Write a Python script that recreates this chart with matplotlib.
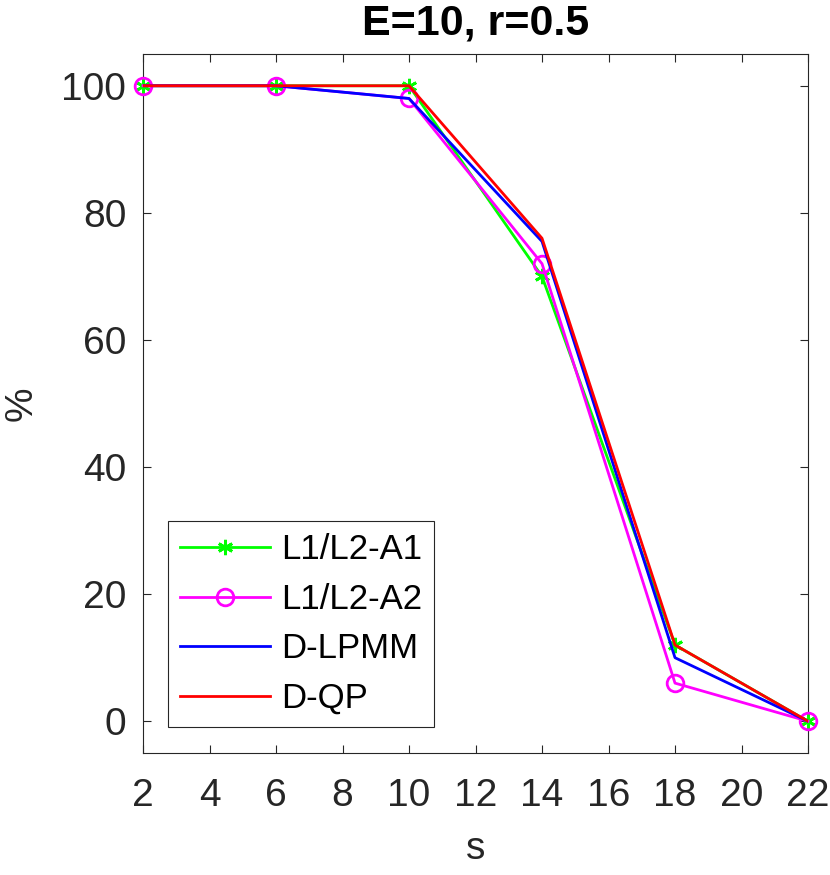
import numpy as np
import matplotlib
matplotlib.use("Agg")
import matplotlib.pyplot as plt

# data
s_vals = [2, 6, 10, 14, 18, 22]
l1l2_a1 = [100, 100, 100, 70, 12, 0]
l1l2_a2 = [100, 100, 98, 72, 6, 0]
d_lpmm = [100, 100, 98, 75.5, 10, 0]
d_qp = [100, 100, 100, 76, 12, 0]

x_ticks = list(range(2, 23, 2))
y_ticks = [0, 20, 40, 60, 80, 100]

AX_COLOR = "#262626"

plt.rcParams.update({
    "font.family": ["Liberation Sans", "DejaVu Sans"],
    "font.size": 28,
    "axes.linewidth": 0.8,
    "axes.edgecolor": AX_COLOR,
    "xtick.color": AX_COLOR,
    "ytick.color": AX_COLOR,
    "xtick.direction": "in",
    "ytick.direction": "in",
    "xtick.top": True,
    "ytick.right": True,
})

fig = plt.figure(figsize=(8.3, 8.75), dpi=100)
ax = fig.add_axes([0.1723, 0.1394, 0.8012, 0.7989])

ax.plot(s_vals, l1l2_a1, color="#00ff00", lw=2, marker=(6, 2, 0),
        markersize=11, markeredgewidth=2, label="L1/L2-A1", zorder=3,
        clip_on=False)
ax.plot(s_vals, l1l2_a2, color="#ff00ff", lw=2, marker="o", markersize=12,
        markerfacecolor="none", markeredgewidth=2, label="L1/L2-A2", zorder=3,
        clip_on=False)
ax.plot(s_vals, d_lpmm, color="#0000ff", lw=2, label="D-LPMM", zorder=4)
ax.plot(s_vals, d_qp, color="#ff0000", lw=2, label="D-QP", zorder=5)

ax.set_xlim(2, 22)
ax.set_ylim(-5, 105)
ax.set_xticks(x_ticks)
ax.set_yticks(y_ticks)
ax.tick_params(length=5.5, width=0.8, labelsize=28)
ax.tick_params(axis="x", pad=18)
ax.tick_params(axis="y", pad=12)

ax.set_xlabel("s", fontsize=28, color=AX_COLOR, labelpad=12)
ax.set_ylabel("%", fontsize=28, color=AX_COLOR, labelpad=16)
ax.set_title("E=10, r=0.5", fontsize=31, fontweight="bold", pad=14)

leg = ax.legend(loc="lower left", bbox_to_anchor=(0.0376, 0.037),
                borderaxespad=0, fontsize=25, handlelength=2.6,
                handletextpad=0.3, labelspacing=0.48, borderpad=0.35,
                fancybox=False, framealpha=1)
leg.get_frame().set_edgecolor(AX_COLOR)
leg.get_frame().set_linewidth(0.8)

fig.savefig("out.png", dpi=100)
